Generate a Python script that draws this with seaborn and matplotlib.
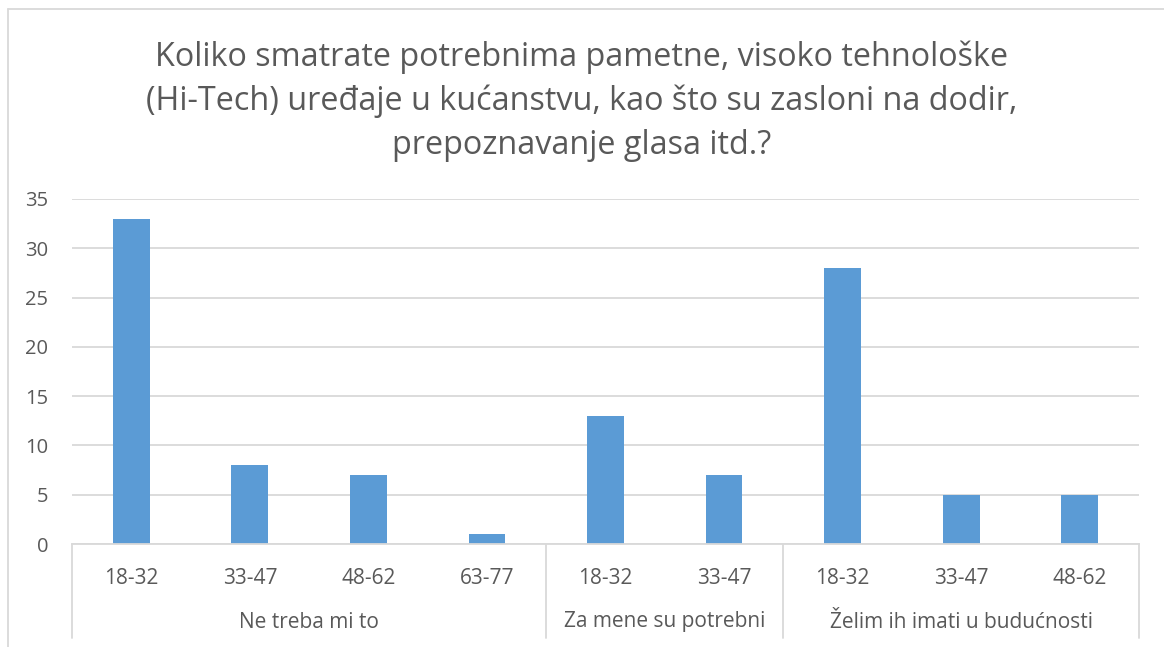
import matplotlib
matplotlib.use("Agg")
import matplotlib.pyplot as plt
import matplotlib.transforms as mtransforms
from matplotlib.lines import Line2D
import seaborn as sns
import pandas as pd

# Survey answers, grouped by response and then by age band
groups = ["Ne treba mi to", "Za mene su potrebni", "Želim ih imati u budućnosti"]
group_ages = [
    ["18-32", "33-47", "48-62", "63-77"],
    ["18-32", "33-47"],
    ["18-32", "33-47", "48-62"],
]
counts = [33, 8, 7, 1, 13, 7, 28, 5, 5]
title = ("Koliko smatrate potrebnima pametne, visoko tehnološke\n"
         "(Hi-Tech) uređaje u kućanstvu, kao što su zasloni na dodir,\n"
         "prepoznavanje glasa itd.?")
yticks = [0, 5, 10, 15, 20, 25, 30, 35]

bar_color = "#5B9BD5"
text_color = "#595959"
line_color = "#D9D9D9"

sns.set_theme(style="white")
plt.rcParams["font.family"] = ["Open Sans", "DejaVu Sans"]

rows = []
for g, ages in zip(groups, group_ages):
    for a in ages:
        rows.append({"key": f"{g}|{a}", "group": g, "age": a})
df = pd.DataFrame(rows)
df["count"] = counts

fig = plt.figure(figsize=(11.64, 6.47), dpi=100)
ax = fig.add_axes([72 / 1164, 1 - 544 / 647, (1139 - 72) / 1164, (544 - 199) / 647])

sns.barplot(data=df, x="key", y="count", order=list(df["key"]), color=bar_color,
            width=0.31, saturation=1, ax=ax, edgecolor="none")

ax.set_ylim(0, 35)
ax.set_xlim(-0.5, len(counts) - 0.5)
ax.set_yticks(yticks)
ax.set_yticklabels([str(t) for t in yticks])
ax.yaxis.grid(True, color=line_color, linewidth=1.3)
ax.set_axisbelow(True)
ax.set_xlabel("")
ax.set_ylabel("")
for side in ["top", "right", "left"]:
    ax.spines[side].set_visible(False)
ax.spines["bottom"].set_color(line_color)
ax.spines["bottom"].set_linewidth(1.3)
ax.tick_params(axis="y", length=0, pad=17, labelsize=14.5, labelcolor=text_color)
ax.tick_params(axis="x", length=0, pad=17, labelsize=15, labelcolor=text_color)
ax.set_xticks(range(len(counts)))
ax.set_xticklabels(list(df["age"]))

# Group labels and separators on the category axis
trans = mtransforms.blended_transform_factory(ax.transData, fig.transFigure)
y_top = 1 - 544 / 647
y_bot = 1 - 638 / 647
start = 0
bounds = [-0.5]
for g, ages in zip(groups, group_ages):
    end = start + len(ages)
    ax.text((start + end - 1) / 2, 1 - 622 / 647, g, transform=trans,
            ha="center", va="center", fontsize=15, color=text_color)
    bounds.append(end - 0.5)
    start = end
for b in bounds:
    ax.add_line(Line2D([b, b], [y_top, y_bot], transform=trans, color=line_color,
                       linewidth=1.3, clip_on=False))

fig.text(0.5, 1 - 101 / 647, title, ha="center", va="center", fontsize=23.3,
         color=text_color, linespacing=1.42)

# Chart frame
fig.add_artist(Line2D([8 / 1164, 8 / 1164], [0, 1 - 9 / 647], transform=fig.transFigure,
                      color=line_color, linewidth=1.3))
fig.add_artist(Line2D([8 / 1164, 1], [1 - 9 / 647, 1 - 9 / 647], transform=fig.transFigure,
                      color=line_color, linewidth=1.3))

fig.savefig("out.png", dpi=100, facecolor="white")
